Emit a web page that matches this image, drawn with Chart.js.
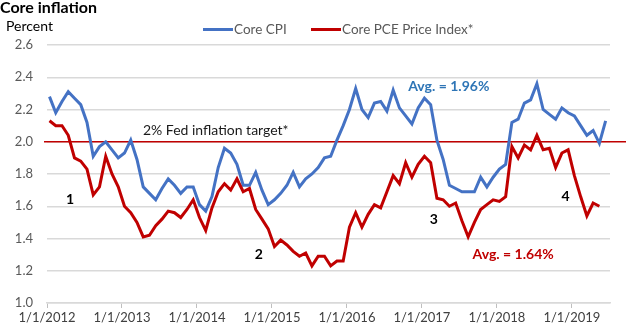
<!DOCTYPE html>
<html>
<head>
<meta charset="utf-8">
<title>Core inflation</title>
<script src="https://cdn.jsdelivr.net/npm/chart.js@4.4.1/dist/chart.umd.min.js"></script>
<style>
  html, body { margin: 0; padding: 0; background: #fff; }
</style>
</head>
<body>
<canvas id="chartInflation" width="626" height="328"></canvas>
<script>
// year-over-year, percent, monthly from Jan 2012
const yearLabels = ['1/1/2012', '1/1/2013', '1/1/2014', '1/1/2015', '1/1/2016', '1/1/2017', '1/1/2018', '1/1/2019'];

const coreCpi = [
  2.28, 2.18, 2.25, 2.31, 2.27, 2.23, 2.12, 1.91, 1.97, 2.00, 1.95, 1.90,
  1.93, 2.01, 1.89, 1.72, 1.68, 1.64, 1.71, 1.77, 1.73, 1.68, 1.72, 1.72,
  1.61, 1.57, 1.66, 1.84, 1.96, 1.93, 1.86, 1.73, 1.73, 1.81, 1.70, 1.61,
  1.64, 1.68, 1.73, 1.81, 1.72, 1.77, 1.80, 1.84, 1.90, 1.91, 2.01, 2.10,
  2.20, 2.33, 2.20, 2.15, 2.24, 2.25, 2.19, 2.32, 2.21, 2.16, 2.11, 2.21,
  2.27, 2.23, 2.01, 1.89, 1.73, 1.71, 1.69, 1.69, 1.69, 1.78, 1.72, 1.78,
  1.83, 1.86, 2.12, 2.14, 2.24, 2.26, 2.36, 2.20, 2.17, 2.14, 2.21, 2.18,
  2.16, 2.10, 2.04, 2.07, 1.99, 2.13,
];

const corePce = [
  2.13, 2.10, 2.10, 2.04, 1.90, 1.88, 1.83, 1.67, 1.72, 1.91, 1.80, 1.72,
  1.60, 1.56, 1.50, 1.41, 1.42, 1.48, 1.52, 1.57, 1.56, 1.53, 1.58, 1.64,
  1.53, 1.45, 1.59, 1.69, 1.74, 1.70, 1.77, 1.69, 1.71, 1.58, 1.52, 1.46,
  1.35, 1.39, 1.36, 1.32, 1.29, 1.31, 1.23, 1.29, 1.29, 1.23, 1.26, 1.26,
  1.47, 1.56, 1.47, 1.55, 1.61, 1.59, 1.69, 1.79, 1.74, 1.87, 1.78, 1.86,
  1.91, 1.87, 1.65, 1.64, 1.60, 1.62, 1.51, 1.41, 1.50, 1.58, 1.61, 1.64,
  1.63, 1.66, 1.97, 1.90, 1.98, 1.95, 2.04, 1.95, 1.96, 1.84, 1.93, 1.95,
  1.79, 1.66, 1.54, 1.62, 1.60,
];

const fedTarget = 2.0;

// text notes placed at [month index, percent]
const notes = [
  { text: '2% Fed inflation target*', at: [26.6, 2.07], color: '#1a1a1a', bold: false },
  { text: '1', at: [3.3, 1.64], color: '#000', bold: true },
  { text: '2', at: [33.5, 1.30], color: '#000', bold: true },
  { text: '3', at: [61.5, 1.515], color: '#000', bold: true },
  { text: '4', at: [82.6, 1.66], color: '#000', bold: true },
  { text: 'Avg. = 1.96%', at: [63.9, 2.345], color: '#2E75B6', bold: true },
  { text: 'Avg. = 1.64%', at: [74.2, 1.30], color: '#C00000', bold: true },
];

const FONT = 'Lato, "Noto Sans", sans-serif';
const BLUE = '#4472C4';
const RED = '#C00000';

const toPoints = (values) => values.map((v, i) => ({ x: i, y: v }));

const decorations = {
  id: 'decorations',
  beforeDatasetsDraw(chart) {
    const { ctx, scales } = chart;
    const y = scales.y.getPixelForValue(fedTarget);
    ctx.save();
    ctx.strokeStyle = RED;
    ctx.lineWidth = 1.5;
    ctx.beginPath();
    ctx.moveTo(44, y);
    ctx.lineTo(chart.width, y);
    ctx.stroke();
    ctx.restore();
  },
  afterDraw(chart) {
    const { ctx, scales } = chart;
    ctx.save();
    ctx.textBaseline = 'alphabetic';
    ctx.textAlign = 'left';

    ctx.fillStyle = '#000';
    ctx.font = `bold 16px ${FONT}`;
    ctx.fillText('Core inflation', 0, 13);
    ctx.font = `14px ${FONT}`;
    ctx.fillText('Percent', 6, 31);

    // legend
    const legend = [
      { label: 'Core CPI', color: BLUE, x: 203 },
      { label: 'Core PCE Price Index*', color: RED, x: 311 },
    ];
    ctx.font = `13.5px ${FONT}`;
    legend.forEach((item) => {
      ctx.strokeStyle = item.color;
      ctx.lineWidth = 3;
      ctx.beginPath();
      ctx.moveTo(item.x, 29.5);
      ctx.lineTo(item.x + 30, 29.5);
      ctx.stroke();
      ctx.fillStyle = '#595959';
      ctx.fillText(item.label, item.x + 31, 34);
    });

    ctx.textAlign = 'center';
    ctx.textBaseline = 'middle';
    notes.forEach((n) => {
      ctx.font = `${n.bold ? 'bold ' : ''}14px ${FONT}`;
      ctx.fillStyle = n.color;
      ctx.fillText(n.text, scales.x.getPixelForValue(n.at[0]), scales.y.getPixelForValue(n.at[1]));
    });
    ctx.restore();
  },
};

new Chart(document.querySelector('#chartInflation'), {
  type: 'line',
  data: {
    datasets: [
      {
        label: 'Core CPI',
        data: toPoints(coreCpi),
        borderColor: BLUE,
        borderWidth: 3,
        pointRadius: 0,
        tension: 0,
        order: 1,
      },
      {
        label: 'Core PCE Price Index*',
        data: toPoints(corePce),
        borderColor: RED,
        borderWidth: 3,
        pointRadius: 0,
        tension: 0,
        order: 0,
      },
    ],
  },
  options: {
    responsive: false,
    animation: false,
    devicePixelRatio: 1,
    layout: { padding: { top: 45, right: 16, left: 0, bottom: 0 } },
    plugins: {
      legend: { display: false },
      tooltip: { enabled: false },
    },
    scales: {
      x: {
        type: 'linear',
        min: -0.4,
        max: 89.7,
        // year ticks sit just before the January points
        afterBuildTicks: (axis) => {
          axis.ticks = yearLabels.map((_, i) => ({ value: i * 12 - 0.4 }));
        },
        afterFit: (axis) => {
          axis.height = 25;
        },
        grid: { drawOnChartArea: false, drawTicks: true, tickLength: 5, color: '#BFBFBF' },
        border: { color: '#D9D9D9', width: 1.5 },
        ticks: {
          autoSkip: false,
          maxRotation: 0,
          padding: 2,
          color: '#404040',
          font: { family: FONT, size: 13 },
          callback: (value, index) => yearLabels[index],
        },
      },
      y: {
        min: 1.0,
        max: 2.6,
        afterFit: (axis) => {
          axis.width = 47;
        },
        grid: { color: '#D9D9D9', lineWidth: 1.5, drawTicks: false },
        border: { display: false },
        ticks: {
          stepSize: 0.2,
          padding: 14,
          color: '#595959',
          font: { family: FONT, size: 13 },
          callback: (value) => value.toFixed(1),
        },
      },
    },
  },
  plugins: [decorations],
});
</script>
</body>
</html>
